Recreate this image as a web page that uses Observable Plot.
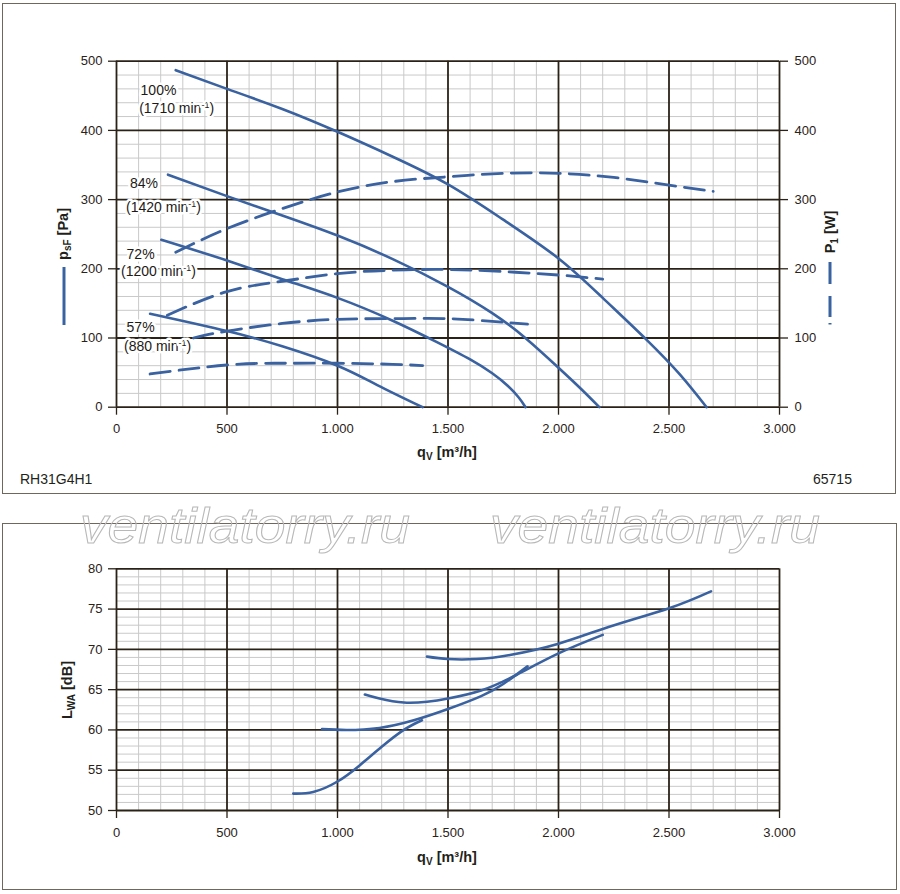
<!DOCTYPE html>
<html>
<head>
<meta charset="utf-8">
<script src="https://cdn.jsdelivr.net/npm/d3@7"></script>
<script src="https://cdn.jsdelivr.net/npm/@observablehq/plot@0.6"></script>
<style>
  body { margin: 0; background: #fff; }
  #root { position: relative; width: 900px; height: 894px; font-family: "Liberation Sans", Arial, sans-serif; color: #231f1a; overflow: hidden; }
  .abs { position: absolute; }
  .frame { position: absolute; border: 1.5px solid #6e675c; box-sizing: border-box; }
  .title { position: absolute; font-weight: bold; font-size: 14.5px; white-space: nowrap; transform: translate(-50%, -50%); }
  .title sub { font-size: 10px; vertical-align: -3px; }
  .rot { transform: translate(-50%, -50%) rotate(-90deg); }
  .note { position: absolute; font-size: 14px; white-space: nowrap; transform: translateY(-50%); }
</style>
</head>
<body>
<div id="root">
  <div class="frame" style="left:2px; top:3px; width:894px; height:491px;"></div>
  <div class="frame" style="left:2px; top:523px; width:895px; height:367px;"></div>
  <div id="top" class="abs" style="left:0; top:0;"></div>
  <div id="bottom" class="abs" style="left:0; top:493px;"></div>

  <div class="title" style="left:447px; top:453px;">q<sub>V</sub> [m³/h]</div>
  <div class="title" style="left:447px; top:858px;">q<sub>V</sub> [m³/h]</div>
  <div class="title rot" style="left:64px; top:234px;">p<sub>sF</sub> [Pa]</div>
  <div class="title rot" style="left:831px; top:232px;">P<sub>1</sub> [W]</div>
  <div class="title rot" style="left:68px; top:690px;">L<sub>WA</sub> [dB]</div>
  <div class="note" style="left:20px; top:479px;">RH31G4H1</div>
  <div class="note" style="left:813px; top:479px;">65715</div>

  <svg class="abs" style="left:0; top:0;" width="900" height="894" pointer-events="none">
    <line x1="64" x2="64" y1="267" y2="325" stroke="#3a62a0" stroke-width="3"/>
    <line x1="830" x2="830" y1="262" y2="325" stroke="#3a62a0" stroke-width="3" stroke-dasharray="22,12,21,6,1.5,20"/>
    <g font-family="Liberation Sans, Arial, sans-serif" font-style="italic" font-size="50" fill="none" stroke="#b8b8b8" stroke-width="1">
      <text x="245" y="543" text-anchor="middle" textLength="330" lengthAdjust="spacingAndGlyphs">ventilatorry.ru</text>
      <text x="655" y="543" text-anchor="middle" textLength="330" lengthAdjust="spacingAndGlyphs">ventilatorry.ru</text>
    </g>
  </svg>
</div>
<script>
// ---------- data ----------
// Pressure curves p_sF [Pa] vs q_V [m3/h]
const q100 = [268, 500, 750, 1000, 1250, 1500, 1750, 2000, 2200, 2400, 2550, 2670];
const p100 = [487, 460, 431, 398, 362, 322, 271, 215, 158, 97, 47, 0];
const q84 = [233, 500, 750, 1000, 1250, 1500, 1700, 1850, 2000, 2100, 2185];
const p84 = [336, 305, 277, 248, 214, 174, 136, 100, 57, 27, 0];
const q72 = [203, 500, 750, 1000, 1250, 1450, 1600, 1700, 1770, 1820, 1851];
const p72 = [242, 212, 185, 158, 125, 94, 69, 49, 31, 14, 0];
const q57 = [152, 500, 750, 1000, 1180, 1385];
const p57 = [135, 110, 88, 60, 32, 0];

// Power input P1 [W]
const wq100 = [268, 500, 750, 1000, 1250, 1500, 1750, 2000, 2250, 2500, 2700];
const w100 = [224, 258, 287, 311, 326, 333, 338, 338, 332, 321, 312];
const wq84 = [230, 500, 750, 1000, 1250, 1500, 1750, 2000, 2200];
const w84 = [133, 167, 182, 193, 198, 199, 196, 191, 185];
const wq72 = [348, 500, 750, 1000, 1250, 1500, 1700, 1860];
const w72 = [100, 110, 121, 127, 128, 128, 124, 120];
const wq57 = [152, 500, 750, 1000, 1250, 1385];
const w57 = [48, 61, 63.5, 63.5, 62, 60];

// Sound power level L_WA [dB]
const lq57 = [800, 890, 1000, 1100, 1200, 1300, 1382];
const l57 = [52.1, 52.3, 53.6, 55.6, 57.9, 60.0, 61.2];
const lq72 = [930, 1040, 1190, 1345, 1500, 1650, 1750, 1860];
const l72 = [60.1, 60.0, 60.25, 61.2, 62.6, 64.2, 65.7, 67.9];
const lq84 = [1124, 1190, 1300, 1405, 1500, 1650, 1800, 2000, 2200];
const l84 = [64.4, 63.9, 63.4, 63.5, 63.9, 64.9, 66.7, 69.5, 71.8];
const lq100 = [1405, 1500, 1630, 1780, 2000, 2230, 2500, 2690];
const l100 = [69.1, 68.8, 68.8, 69.3, 70.7, 72.8, 75.1, 77.2];

// Speed labels
const speedLabels = ["100%", "(1710 min⁻¹)", "84%", "(1420 min⁻¹)", "72%", "(1200 min⁻¹)", "57%", "(880 min⁻¹)"];
const speedLabelQ = [190, 272, 124, 213, 109, 190, 109, 186];
const speedLabelP = [457, 431, 323, 288, 220, 196, 115, 87];

// Ticks
const xTicks = [0, 500, 1000, 1500, 2000, 2500, 3000];
const xTickLabels = ["0", "500", "1.000", "1.500", "2.000", "2.500", "3.000"];
const xMinor = [100, 200, 300, 400, 600, 700, 800, 900, 1100, 1200, 1300, 1400, 1600, 1700, 1800, 1900, 2100, 2200, 2300, 2400, 2600, 2700, 2800, 2900];
const pTicks = [0, 100, 200, 300, 400, 500];
const pMinor = [20, 40, 60, 80, 120, 140, 160, 180, 220, 240, 260, 280, 320, 340, 360, 380, 420, 440, 460, 480];
const lTicks = [50, 55, 60, 65, 70, 75, 80];
const lMinor = [51, 52, 53, 54, 56, 57, 58, 59, 61, 62, 63, 64, 66, 67, 68, 69, 71, 72, 73, 74, 76, 77, 78, 79];

// ---------- helpers ----------
const BLUE = "#3a62a0";
const DARK = "#2b2217";
const MINOR = "#c9c9c9";
const xFmt = d => xTickLabels[xTicks.indexOf(d)];
const rows = (qs, vs, s) => qs.map((q, i) => ({q, v: vs[i], s}));

const pressure = [...rows(q100, p100, "100"), ...rows(q84, p84, "84"), ...rows(q72, p72, "72"), ...rows(q57, p57, "57")];
const power = [...rows(wq100, w100, "100"), ...rows(wq84, w84, "84"), ...rows(wq72, w72, "72"), ...rows(wq57, w57, "57")];
const sound = [...rows(lq100, l100, "100"), ...rows(lq84, l84, "84"), ...rows(lq72, l72, "72"), ...rows(lq57, l57, "57")];
const labels = speedLabels.map((t, i) => ({t, q: speedLabelQ[i], p: speedLabelP[i]}));

const style = {fontFamily: "Liberation Sans, Arial, sans-serif", fontSize: "13px", color: DARK, background: "transparent", overflow: "visible"};

function grid(xMinorT, yMinorT, xMajorT, yMajorT) {
  return [
    Plot.ruleX(xMinorT, {stroke: MINOR, strokeWidth: 1}),
    Plot.ruleY(yMinorT, {stroke: MINOR, strokeWidth: 1}),
    Plot.ruleX(xMajorT, {stroke: DARK, strokeWidth: 1.8}),
    Plot.ruleY(yMajorT, {stroke: DARK, strokeWidth: 1.8})
  ];
}

const topPlot = Plot.plot({
  width: 900, height: 493,
  marginLeft: 116, marginRight: 121, marginTop: 60.7, marginBottom: 86.3,
  x: {domain: [0, 3000]},
  y: {domain: [0, 500]},
  style,
  marks: [
    ...grid(xMinor, pMinor, xTicks, pTicks),
    Plot.axisX({ticks: xTicks, tickFormat: xFmt, tickSize: 8, tickPadding: 9, label: null, stroke: DARK, strokeWidth: 1.3}),
    Plot.axisY({anchor: "left", ticks: pTicks, tickSize: 8, tickPadding: 6, label: null, stroke: DARK, strokeWidth: 1.3}),
    Plot.axisY({anchor: "right", ticks: pTicks, tickSize: 8, tickPadding: 7, label: null, stroke: DARK, strokeWidth: 1.3}),
    Plot.line(power, {x: "q", y: "v", z: "s", stroke: BLUE, strokeWidth: 2.8, strokeDasharray: "20,9", curve: "natural"}),
    Plot.line(pressure, {x: "q", y: "v", z: "s", stroke: BLUE, strokeWidth: 2.6, curve: "natural"}),
    Plot.text(labels, {x: "q", y: "p", text: "t", fill: "#1e1a16", stroke: "white", strokeWidth: 5, paintOrder: "stroke", fontSize: 14})
  ]
});

const bottomPlot = Plot.plot({
  width: 900, height: 401,
  marginLeft: 116, marginRight: 121, marginTop: 75.3, marginBottom: 84,
  x: {domain: [0, 3000]},
  y: {domain: [50, 80]},
  style,
  marks: [
    ...grid(xMinor, lMinor, xTicks, lTicks),
    Plot.axisX({ticks: xTicks, tickFormat: xFmt, tickSize: 8, tickPadding: 9, label: null, stroke: DARK, strokeWidth: 1.3}),
    Plot.axisY({anchor: "left", ticks: lTicks, tickSize: 8, tickPadding: 6, label: null, stroke: DARK, strokeWidth: 1.3}),
    Plot.line(sound, {x: "q", y: "v", z: "s", stroke: BLUE, strokeWidth: 2.6, curve: "natural"})
  ]
});

// turn "min⁻¹" into a real superscript
d3.select(topPlot).selectAll("text").each(function() {
  const s = this.textContent;
  if (s.includes("min⁻¹")) {
    const [a, b] = s.split("⁻¹");
    const el = d3.select(this);
    el.text(null);
    el.append("tspan").text(a);
    el.append("tspan").attr("dy", "-5").attr("font-size", "9").text("-1");
    el.append("tspan").attr("dy", "5").text(b);
  }
});

document.getElementById("top").appendChild(topPlot);
document.getElementById("bottom").appendChild(bottomPlot);
</script>
</body>
</html>
